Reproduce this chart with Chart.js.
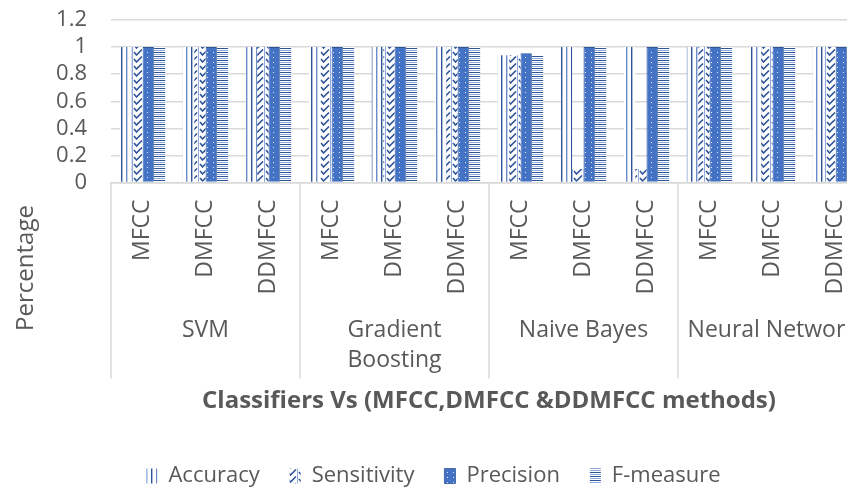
<!DOCTYPE html>
<html>
<head>
<meta charset="utf-8">
<script src="https://cdn.jsdelivr.net/npm/chart.js@4.4.1/dist/chart.umd.min.js"></script>
<style>
  html, body { margin: 0; padding: 0; background: #fff; overflow: hidden; }
  #wrap { width: 847px; height: 490px; overflow: hidden; }
  canvas { display: block; }
</style>
</head>
<body>
<div id="wrap"><canvas id="chart" width="890" height="497"></canvas></div>
<script>
const classifiers = ['SVM', 'Gradient Boosting', 'Naive Bayes', 'Neural Network'];
const methods = ['MFCC', 'DMFCC', 'DDMFCC'];
// one value per (classifier, method), classifier-major
const accuracy    = [1, 1, 1,  1, 1, 1,  0.94, 1, 1,    1, 1, 1];
const sensitivity = [1, 1, 1,  1, 1, 1,  0.94, 0.1, 0.1, 1, 1, 1];
const precision   = [1, 1, 1,  1, 1, 1,  0.955, 1, 1,   1, 1, 1];
const fMeasure    = [1, 1, 1,  1, 1, 1,  0.94, 1, 1,    1, 1, 1];
const yTicks = [0, 0.2, 0.4, 0.6, 0.8, 1, 1.2];

const categoryLabels = [];
classifiers.forEach(() => methods.forEach(m => categoryLabels.push(m)));

const textColor = '#595959';
const gridColor = '#d9d9d9';
Chart.defaults.font.family = '"Open Sans", "Noto Sans", sans-serif';
Chart.defaults.color = textColor;

// pattern fills, Excel style
function makePattern(w, h, draw) {
  const c = document.createElement('canvas');
  c.width = w; c.height = h;
  const g = c.getContext('2d');
  draw(g);
  return document.getElementById('chart').getContext('2d').createPattern(c, 'repeat');
}
const verticalLines = makePattern(10, 4, g => {
  g.fillStyle = '#fff'; g.fillRect(0, 0, 10, 4);
  g.fillStyle = '#2f5597'; g.fillRect(1, 0, 1.4, 4);
  g.fillStyle = '#6a8bc8'; g.fillRect(6, 0, 1.4, 4);
});
const checkMarks = makePattern(11, 7, g => {
  g.fillStyle = '#fff'; g.fillRect(0, 0, 11, 7);
  g.strokeStyle = '#2f5597'; g.lineWidth = 1.6;
  g.beginPath(); g.moveTo(2, 3); g.lineTo(4.5, 6); g.lineTo(10, 0.5); g.stroke();
  g.strokeStyle = '#8faadc'; g.lineWidth = 1;
  g.beginPath(); g.moveTo(0.5, 0); g.lineTo(0.5, 7); g.stroke();
});
const dottedBlue = makePattern(6, 5, g => {
  g.fillStyle = '#4472c4'; g.fillRect(0, 0, 6, 5);
  g.fillStyle = 'rgba(255,255,255,0.85)'; g.fillRect(3, 2, 1, 1);
});
const horizontalLines = makePattern(4, 4, g => {
  g.fillStyle = '#fff'; g.fillRect(0, 0, 4, 4);
  g.fillStyle = '#2f5597'; g.fillRect(0, 0, 4, 1);
  g.fillStyle = '#8faadc'; g.fillRect(0, 2, 4, 1);
});

const groupAxis = {
  id: 'groupAxis',
  afterDraw(chart) {
    const ctx = chart.ctx;
    const xs = chart.scales.x;
    const area = chart.chartArea;
    const step = (xs.right - xs.left) / categoryLabels.length;
    ctx.save();
    ctx.strokeStyle = gridColor;
    ctx.lineWidth = 1.5;
    for (let g = 0; g <= classifiers.length; g++) {
      const x = xs.left + g * methods.length * step;
      ctx.beginPath();
      ctx.moveTo(x, area.bottom);
      ctx.lineTo(x, area.bottom + 196);
      ctx.stroke();
    }
    ctx.fillStyle = textColor;
    ctx.font = '23px "Open Sans"';
    ctx.textAlign = 'center';
    ctx.textBaseline = 'middle';
    classifiers.forEach((name, g) => {
      const cx = xs.getPixelForValue(g * methods.length + 1);
      const lines = ctx.measureText(name).width > 175 ? name.split(' ') : [name];
      lines.forEach((t, i) => ctx.fillText(t, cx, area.bottom + 148 + i * 30));
    });
    ctx.translate(26, 268);
    ctx.rotate(-Math.PI / 2);
    ctx.font = '24px "Open Sans"';
    ctx.fillText('Percentage', 0, 0);
    ctx.restore();
  }
};

new Chart(document.getElementById('chart'), {
  type: 'bar',
  data: {
    labels: categoryLabels,
    datasets: [
      { label: 'Accuracy', data: accuracy, backgroundColor: verticalLines, borderWidth: 0 },
      { label: 'Sensitivity', data: sensitivity, backgroundColor: checkMarks, borderWidth: 0 },
      { label: 'Precision', data: precision, backgroundColor: dottedBlue, borderColor: '#2f5597', borderWidth: 0.8 },
      { label: 'F-measure', data: fMeasure, backgroundColor: horizontalLines, borderWidth: 0 }
    ]
  },
  options: {
    responsive: false,
    animation: false,
    categoryPercentage: 0.72,
    barPercentage: 1,
    layout: { padding: { top: 20, right: 23, left: 0, bottom: 0 } },
    plugins: {
      legend: {
        position: 'bottom',
        labels: { boxWidth: 11, boxHeight: 15, padding: 30, font: { size: 22 }, color: textColor }
      },
      tooltip: { enabled: false }
    },
    scales: {
      x: {
        grid: { display: false, drawTicks: false },
        border: { display: true, color: gridColor, width: 1.5 },
        ticks: { autoSkip: false, minRotation: 90, maxRotation: 90, padding: 17, font: { size: 23 }, color: textColor },
        title: {
          display: true,
          text: 'Classifiers Vs (MFCC,DMFCC &DDMFCC methods)',
          font: { size: 24, weight: 'bold' },
          color: textColor,
          padding: { top: 0, bottom: 19 }
        },
        afterFit(scale) {
          scale.height = 252.5;
          scale.paddingTop = 0; scale.paddingBottom = 0;
          scale.paddingLeft = 0; scale.paddingRight = 0;
        }
      },
      y: {
        min: 0,
        max: 1.2,
        afterBuildTicks(scale) { scale.ticks = yTicks.map(v => ({ value: v })); },
        grid: { color: gridColor, lineWidth: 1.5, drawTicks: false },
        border: { display: false },
        ticks: { autoSkip: false, padding: 24, font: { size: 22 }, color: textColor, callback: v => String(v) },
        afterFit(scale) {
          scale.width = 111;
          scale.paddingTop = 0; scale.paddingBottom = 0;
        }
      }
    }
  },
  plugins: [groupAxis]
});
</script>
</body>
</html>
